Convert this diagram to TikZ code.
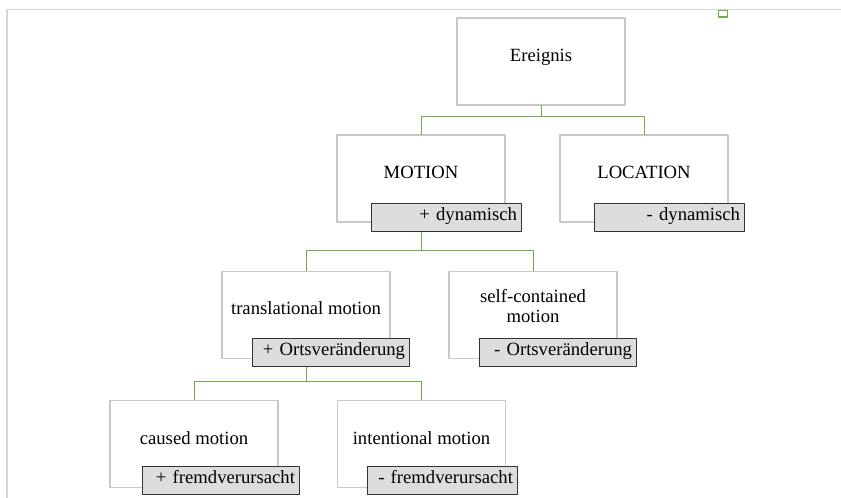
\documentclass[tikz,border=0pt]{standalone}
\usepackage{fontspec}
\setmainfont{Liberation Serif}
\definecolor{linkgreen}{RGB}{112,173,71}
\definecolor{framegray}{RGB}{214,214,214}
\definecolor{boxgray}{RGB}{200,200,200}
\definecolor{tagfill}{RGB}{221,221,221}
\begin{document}
\begin{tikzpicture}[x=0.75pt, y=-0.75pt, line cap=round, line join=round,
    every node/.style={font=\fontsize{14}{15}\selectfont},
    catbox/.style={draw=boxgray, line width=1.1pt, minimum width=126pt, minimum height=65.25pt,
        inner sep=0pt, text height=0.5em, text depth=0.5em, align=center},
    featbox/.style={draw=black!80, fill=tagfill, line width=0.6pt, minimum height=21pt,
        inner xsep=3pt, inner ysep=0pt, text width=#1, text height=0.7em, text depth=0.2em, align=right},
    link/.style={draw=linkgreen, line width=0.75pt}]
            \useasboundingbox (0,0) rectangle (841,498);
            % --- 外枠 ---
            \draw[framegray, line width=1.1pt] (7,498) -- (7,9.5) -- (841,9.5);
            \draw[linkgreen, line width=1.1pt] (718.5,10.5) rectangle (727.5,17);
            % --- カテゴリの箱 ---
            \node[catbox] (ereignis) at (541,61.5) {Ereignis};
            \node[catbox] (motion) at (421,178.5) {MOTION};
            \node[catbox] (location) at (644,178.5) {LOCATION};
            \node[catbox] (transl) at (306,315) {translational motion};
            \node[catbox, text height=1.57em] (selfcont) at (533,315) {self-contained\\motion};
            \node[catbox] (caused) at (194,444) {caused motion};
            \node[catbox] (intent) at (421.5,444) {intentional motion};
            % --- 緑の枝(上から下へ)
            \draw[link] (ereignis.south) -- ++(0,11) -| (motion.north);
            \draw[link] (ereignis.south) ++(0,11) -| (location.north);
            \draw[link] (motion.south) -- ++(0,28) -| (transl.north);
            \draw[link] (motion.south) ++(0,28) -| (selfcont.north);
            \draw[link] (transl.south) -- ++(0,22) -| (caused.north);
            \draw[link] (transl.south) ++(0,22) -| (intent.north);
            % --- 灰色の素性ラベル ---
            \node[featbox=106.5pt] (dynplus) at (446,217) {+ dynamisch};
            \node[featbox=106.5pt] (dynminus) at (669,217) {- dynamisch};
            \node[featbox=111.75pt] (ortplus) at (330.5,352.5) {+ Ortsveränderung};
            \node[featbox=111.75pt] (ortminus) at (557.5,352.5) {- Ortsveränderung};
            \node[featbox=111.75pt] (fremdplus) at (220.5,480.5) {+ fremdverursacht};
            \node[featbox=106.5pt] (fremdminus) at (442,480.5) {- fremdverursacht};
        \end{tikzpicture}
\end{document}
